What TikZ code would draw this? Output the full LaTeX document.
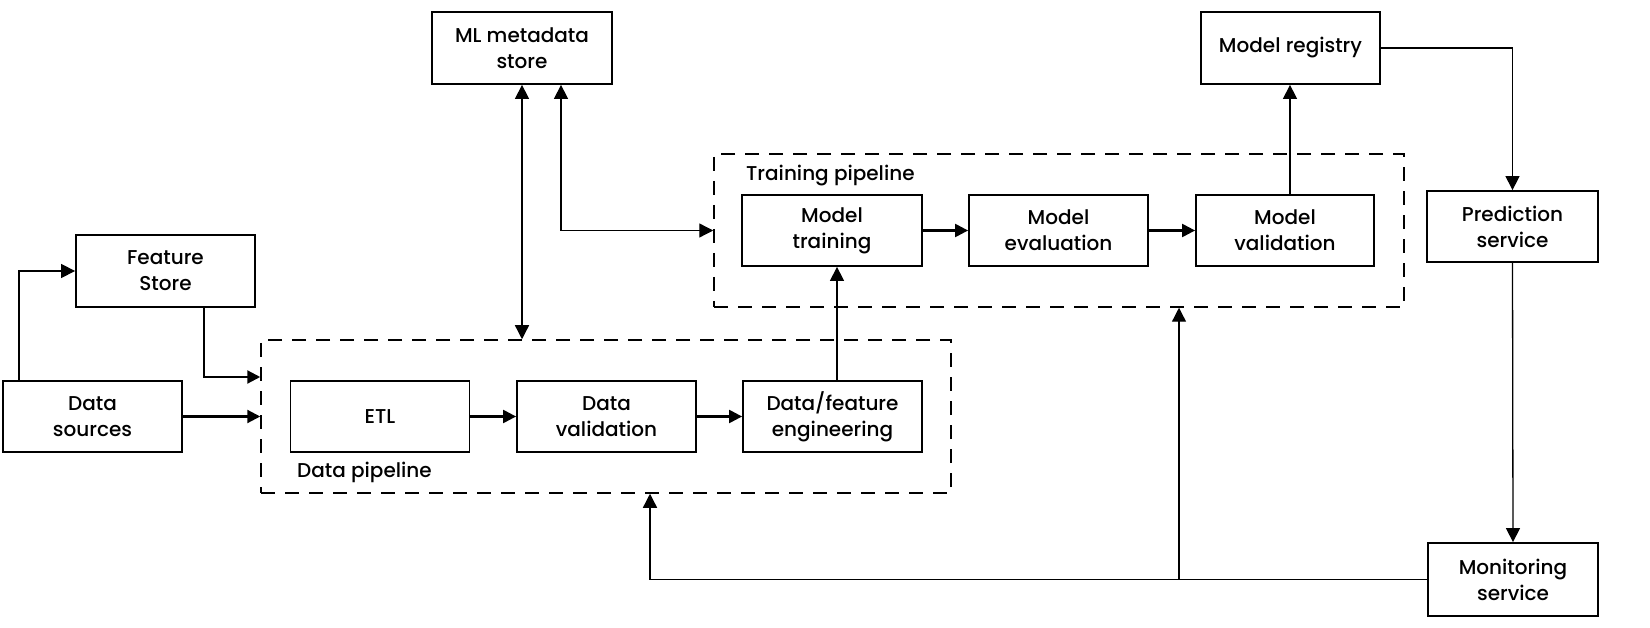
\documentclass[tikz,border=0pt]{standalone}
\usepackage{fontspec}
\setmainfont{Poppins}[UprightFont=* Medium]
\usetikzlibrary{arrows.meta,calc}
\begin{document}
\begin{tikzpicture}[x=1pt,y=-1pt,
  box/.style={draw, line width=1.8pt, minimum width=179pt, minimum height=72pt, align=center, inner sep=0pt, font=\fontsize{20}{26}\selectfont},
  grp/.style={draw, dash pattern=on 14pt off 10pt, line width=1.5pt, inner sep=0pt},
  lbl/.style={font=\fontsize{20}{26}\selectfont, inner sep=0pt, anchor=west},
  conn/.style={line width=1.3pt, -{Triangle[length=14pt,width=14pt]}},
  thick conn/.style={line width=2.2pt, -{Triangle[length=13pt,width=13pt]}},
  both/.style={line width=1.3pt, {Triangle[length=14pt,width=14pt]}-{Triangle[length=14pt,width=14pt]}}
]
\useasboundingbox (0,0) rectangle (1650,628);

% groups
\node[grp, minimum width=690pt, minimum height=153pt] (dp) at (606,416.5) {};
\node[grp, minimum width=690pt, minimum height=153pt] (tp) at (1059,230.5) {};
\node[lbl] (dpl) at (297,472) {Data pipeline};
\node[lbl] (tpl) at (746,176) {Training pipeline};

% boxes
\node[box, minimum width=180pt] (ml) at (522,48) {ML metadata\\store};
\node[box] (mr) at (1290.5,48) {Model registry};
\node[box] (fs) at (165.5,271) {Feature\\Store};
\node[box, minimum height=71pt] (ds) at (92.5,416.5) {Data\\sources};
\node[box, minimum height=71pt] (etl) at (380,416.5) {ETL};
\node[box, minimum height=71pt] (dv) at (606.5,416.5) {Data\\validation};
\node[box, minimum height=71pt] (dfe) at (832.5,416.5) {Data/feature\\engineering};
\node[box, minimum height=71pt, minimum width=180pt] (mt) at (832,230.5) {Model\\training};
\node[box, minimum height=71pt] (me) at (1058.5,230.5) {Model\\evaluation};
\node[box, minimum height=71pt, minimum width=178pt] (mv) at (1285,230.5) {Model\\validation};
\node[box, minimum width=171pt, minimum height=71pt] (ps) at (1512.5,226.5) {Prediction\\service};
\node[box, minimum width=170pt, minimum height=73pt] (mon) at (1513,579.5) {Monitoring\\service};

% connectors
\draw[conn] ($(ds.north west)+(17,0)$) |- (fs.west);
\draw[thick conn] ($(fs.south)+(38.5,0)$) |- ($(dp.west)+(0,-39.5)$);
\draw[thick conn] (ds.east) -- (ds.east -| dp.west);
\draw[thick conn] (etl) -- (dv);
\draw[thick conn] (dv) -- (dfe);
\draw[conn] ($(dfe.north)+(4.5,0)$) -- ($(mt.south)+(5,0)$);
\draw[both] (ml.south) -- (ml.south |- dp.north);
\draw[both] ($(ml.south)+(39,0)$) |- (tp.west);
\draw[thick conn] (mt) -- (me);
\draw[thick conn] (me) -- (mv);
\draw[conn] ($(mv.north)+(5,0)$) -- ($(mr.south)+(-0.5,0)$);
\draw[conn] (mr.east) -| (ps.north);
\draw[conn] (ps.south) -- (mon.north);
\draw[conn] (mon.west) -| ($(dp.south)+(44,0)$);
\coordinate (j0) at ($(tp.south)+(120,0)$);
\coordinate (j) at (j0 |- mon.west);
\draw[conn] (j) -- (j0);
\end{tikzpicture}
\end{document}
